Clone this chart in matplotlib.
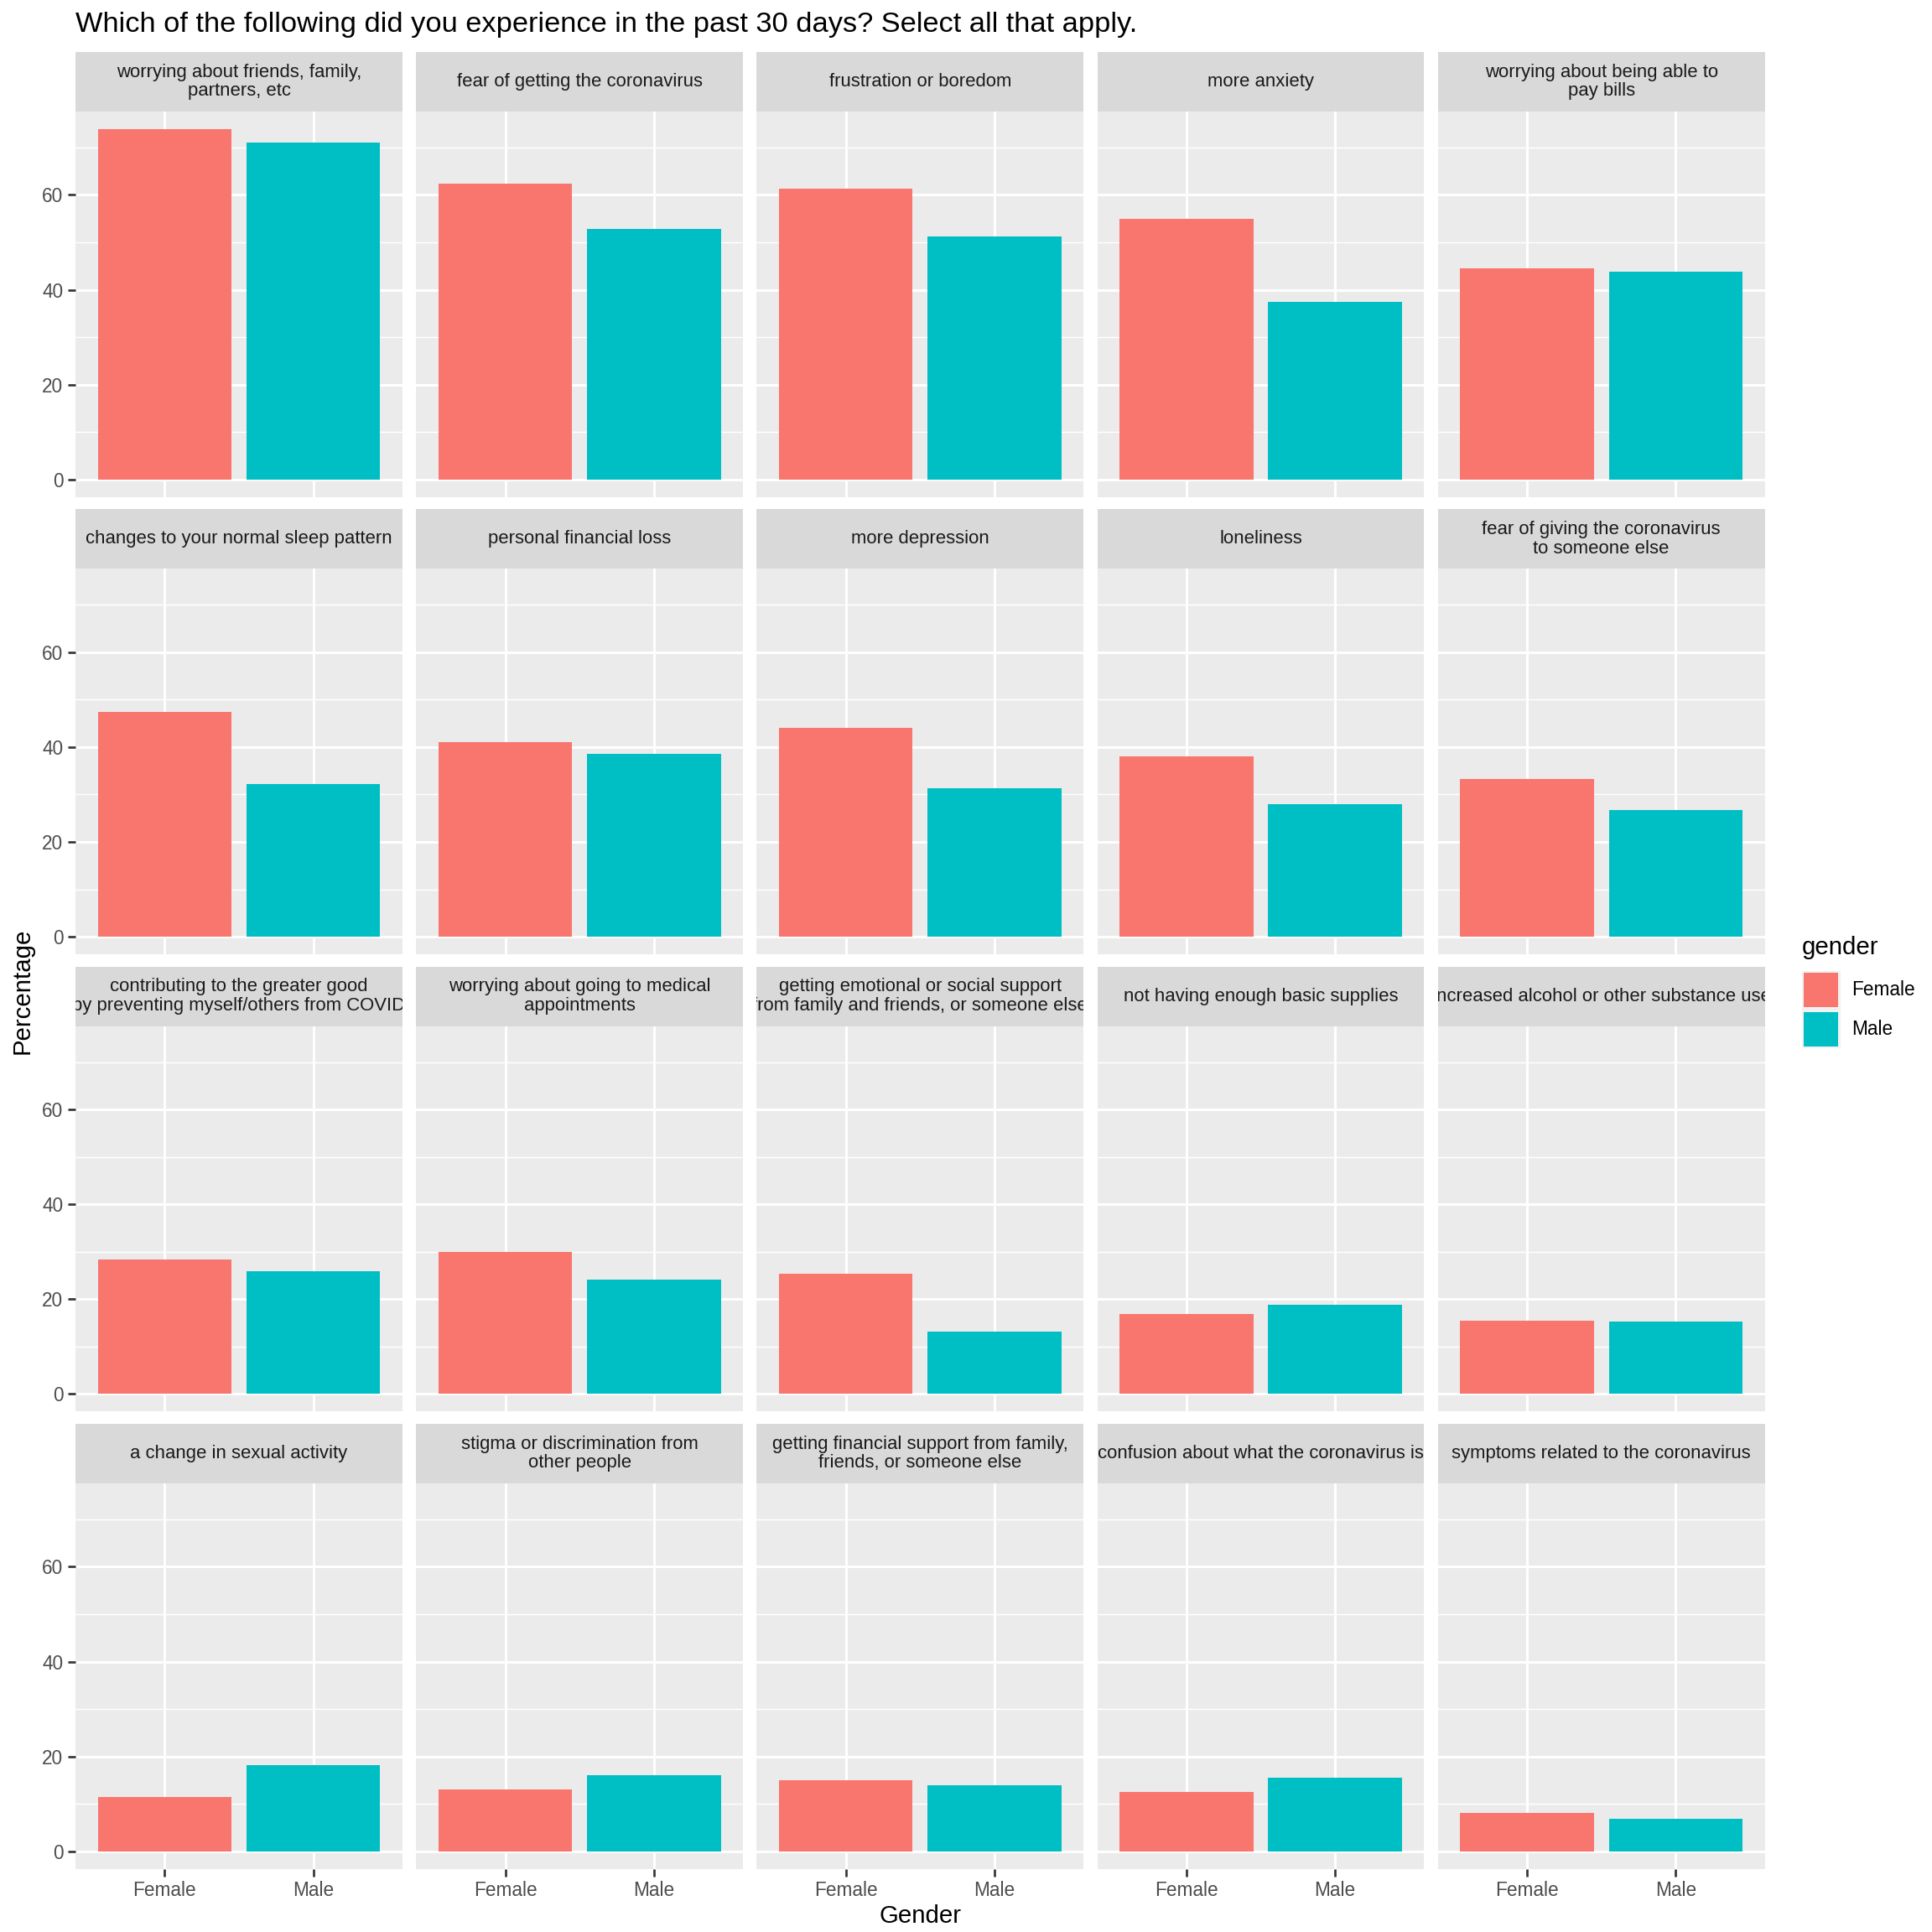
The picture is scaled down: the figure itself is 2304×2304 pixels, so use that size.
import matplotlib
matplotlib.use("Agg")
import matplotlib.pyplot as plt
from matplotlib.patches import Rectangle
import numpy as np

plt.rcParams['font.family'] = ['Liberation Sans', 'DejaVu Sans']

title = "Which of the following did you experience in the past 30 days? Select all that apply."
categories = [
    "worrying about friends, family,\npartners, etc",
    "fear of getting the coronavirus",
    "frustration or boredom",
    "more anxiety",
    "worrying about being able to\npay bills",
    "changes to your normal sleep pattern",
    "personal financial loss",
    "more depression",
    "loneliness",
    "fear of giving the coronavirus\nto someone else",
    "contributing to the greater good\nby preventing myself/others from COVID",
    "worrying about going to medical\nappointments",
    "getting emotional or social support\nfrom family and friends, or someone else",
    "not having enough basic supplies",
    "increased alcohol or other substance use",
    "a change in sexual activity",
    "stigma or discrimination from\nother people",
    "getting financial support from family,\nfriends, or someone else",
    "confusion about what the coronavirus is",
    "symptoms related to the coronavirus",
]
female = [73.9, 62.4, 61.3, 55.0, 44.5,
          47.4, 41.1, 44.0, 38.0, 33.3,
          28.3, 29.9, 25.4, 16.8, 15.5,
          11.5, 13.1, 15.0, 12.6, 8.1]
male = [71.0, 52.9, 51.3, 37.5, 43.8,
        32.2, 38.5, 31.4, 28.0, 26.7,
        25.9, 24.1, 13.1, 18.9, 15.2,
        18.1, 16.0, 13.9, 15.5, 6.8]
genders = ["Female", "Male"]
colors = ["#F8766D", "#00BFC4"]
yticks = [0, 20, 40, 60]

S = 1560.0
fig = plt.figure(figsize=(12, 12), dpi=192)

def fx(v): return v / S
def fy(v): return 1 - v / S

col_left = 61
col_w = 264
col_gap = 11
row_top = 42
row_h = (1509 - 42 - 30) / 4.0
row_gap = 10
strip_h = 48

ymax = max(max(female), max(male))
ylim = (-0.05 * ymax, 1.05 * ymax)

for i, cat in enumerate(categories):
    r, c = divmod(i, 5)
    x0 = col_left + c * (col_w + col_gap)
    t = row_top + r * (row_h + row_gap)
    # strip
    sax = fig.add_axes([fx(x0), fy(t + strip_h), col_w / S, strip_h / S])
    sax.set_facecolor("#D9D9D9")
    sax.set_xticks([]); sax.set_yticks([])
    for sp in sax.spines.values():
        sp.set_visible(False)
    sax.set_xlim(0, 1); sax.set_ylim(0, 1)
    sax.text(0.5, 0.5, cat, ha='center', va='center', fontsize=8.3,
             color="#1A1A1A", linespacing=1.12, clip_on=True)
    # panel
    pax = fig.add_axes([fx(x0), fy(t + row_h), col_w / S, (row_h - strip_h) / S])
    pax.set_facecolor("#EBEBEB")
    for sp in pax.spines.values():
        sp.set_visible(False)
    pax.set_xlim(0.4, 2.6)
    pax.set_ylim(*ylim)
    pax.set_yticks(yticks)
    pax.set_yticks([10, 30, 50, 70], minor=True)
    pax.set_xticks([1, 2])
    pax.grid(True, which='major', color='white', linewidth=1.1)
    pax.grid(True, which='minor', axis='y', color='white', linewidth=0.55)
    pax.set_axisbelow(True)
    pax.bar([1, 2], [female[i], male[i]], width=0.9, color=colors, zorder=2)
    pax.tick_params(which='minor', length=0)
    pax.tick_params(which='major', length=3.5, width=1.0, color="#333333",
                    labelsize=8.5, labelcolor="#4D4D4D", pad=2)
    if c == 0:
        pax.set_yticklabels([str(v) for v in yticks])
    else:
        pax.tick_params(axis='y', which='major', length=0, labelleft=False)
    if r == 3:
        pax.set_xticklabels(genders)
    else:
        pax.tick_params(axis='x', which='major', length=0, labelbottom=False)

fig.text(fx(61), fy(20), title, ha='left', va='center', fontsize=12.9, color='black')
fig.text(fx(18), fy(800), "Percentage", ha='center', va='center', rotation=90,
         fontsize=11, color='black')
fig.text(fx(743), fy(1547), "Gender", ha='center', va='center', fontsize=11, color='black')

# legend
fig.text(fx(1455), fy(765), "gender", ha='left', va='center', fontsize=11, color='black')
for k, (g, col) in enumerate(zip(genders, colors)):
    top = 784 + k * 31.5
    fig.patches.append(Rectangle((fx(1455), fy(top + 31)), 31 / S, 31 / S,
                                 transform=fig.transFigure, facecolor="#F2F2F2",
                                 edgecolor='none'))
    fig.patches.append(Rectangle((fx(1456.5), fy(top + 29.5)), 28 / S, 28 / S,
                                 transform=fig.transFigure, facecolor=col,
                                 edgecolor='none'))
    fig.text(fx(1495), fy(top + 15.5), g, ha='left', va='center', fontsize=8.5,
             color='black')

fig.savefig("out.png", dpi=192, facecolor='white')
